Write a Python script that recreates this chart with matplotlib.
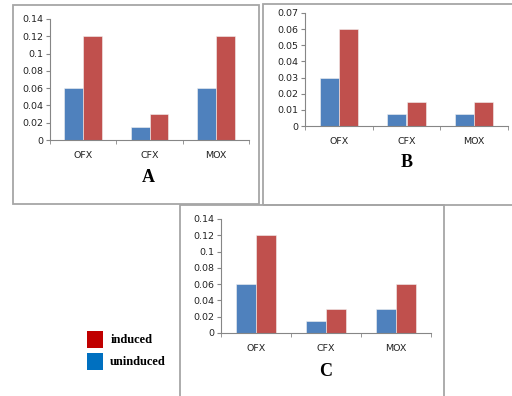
import numpy as np
import matplotlib
matplotlib.use("Agg")
import matplotlib.pyplot as plt
from matplotlib.patches import Rectangle

drugs = ["OFX", "CFX", "MOX"]

# panel values (uninduced, induced)
a_uninduced = [0.06, 0.015, 0.06]
a_induced = [0.12, 0.03, 0.12]
b_uninduced = [0.03, 0.0075, 0.0075]
b_induced = [0.06, 0.015, 0.015]
c_uninduced = [0.06, 0.015, 0.03]
c_induced = [0.12, 0.03, 0.06]

a_yticks = [0, 0.02, 0.04, 0.06, 0.08, 0.1, 0.12, 0.14]
a_ylabels = ["0", "0.02", "0.04", "0.06", "0.08", "0.1", "0.12", "0.14"]
b_yticks = [0, 0.01, 0.02, 0.03, 0.04, 0.05, 0.06, 0.07]
b_ylabels = ["0", "0.01", "0.02", "0.03", "0.04", "0.05", "0.06", "0.07"]

BLUE = "#4F81BD"
RED = "#C0504D"
W, H = 512, 396

fig = plt.figure(figsize=(W / 100, H / 100), dpi=100)


def px_axes(left, top, right, bottom):
    return fig.add_axes([left / W, 1 - bottom / H, (right - left) / W, (bottom - top) / H])


def box(left, top, right, bottom):
    r = Rectangle((left / W, 1 - bottom / H), (right - left) / W, (bottom - top) / H,
                  transform=fig.transFigure, fill=False, edgecolor="#A6A6A6", lw=1.3)
    fig.patches.append(r)


def panel(ax, unind, ind, yticks, ylabels):
    x = np.arange(len(drugs))
    w = 0.285
    ax.bar(x - w / 2, unind, w, color=BLUE, edgecolor="#F2F2F2", lw=0.4)
    ax.bar(x + w / 2, ind, w, color=RED, edgecolor="#F2F2F2", lw=0.4)
    ax.set_xlim(-0.5, 2.5)
    ax.set_ylim(yticks[0], yticks[-1])
    ax.set_yticks(yticks)
    ax.set_yticklabels(ylabels, fontsize=6.8, family="DejaVu Sans", color="#222222")
    ax.set_xticks(x)
    ax.set_xticklabels(drugs, fontsize=6.8, family="DejaVu Sans", color="#222222")
    ax.set_xticks([-0.5, 0.5, 1.5, 2.5], minor=True)
    ax.tick_params(axis="x", which="major", length=0, pad=8)
    ax.tick_params(axis="x", which="minor", length=3, color="#868686", direction="out")
    ax.tick_params(axis="y", length=3, color="#868686", pad=2)
    for s in ["top", "right"]:
        ax.spines[s].set_visible(False)
    ax.spines["left"].set_color("#868686")
    ax.spines["bottom"].set_color("#868686")
    ax.patch.set_alpha(0)


box(13, 5, 259, 204)
box(263, 4, 515, 205)
box(180, 205, 444, 402)

axA = px_axes(50, 19, 249, 140)
panel(axA, a_uninduced, a_induced, a_yticks, a_ylabels)
axB = px_axes(305, 13, 508, 126)
panel(axB, b_uninduced, b_induced, b_yticks, b_ylabels)
axC = px_axes(221, 219, 431, 333)
panel(axC, c_uninduced, c_induced, a_yticks, a_ylabels)

serif = dict(family="Liberation Serif", fontweight="bold", ha="center", va="center")
fig.text(148 / W, 1 - 178 / H, "A", fontsize=13, **serif)
fig.text(407 / W, 1 - 163 / H, "B", fontsize=13, **serif)
fig.text(326 / W, 1 - 372 / H, "C", fontsize=13, **serif)

# legend
fig.patches.append(Rectangle((87 / W, 1 - 348 / H), 16 / W, 17 / H, transform=fig.transFigure,
                             facecolor="#C00000", edgecolor="none"))
fig.patches.append(Rectangle((87 / W, 1 - 370 / H), 16 / W, 17 / H, transform=fig.transFigure,
                             facecolor="#0070C0", edgecolor="none"))
fig.text(111 / W, 1 - 340 / H, "induced", fontsize=9, family="Liberation Serif",
         fontweight="bold", va="center")
fig.text(110 / W, 1 - 362 / H, "uninduced", fontsize=9, family="Liberation Serif",
         fontweight="bold", va="center")

plt.savefig("out.png", dpi=100)
